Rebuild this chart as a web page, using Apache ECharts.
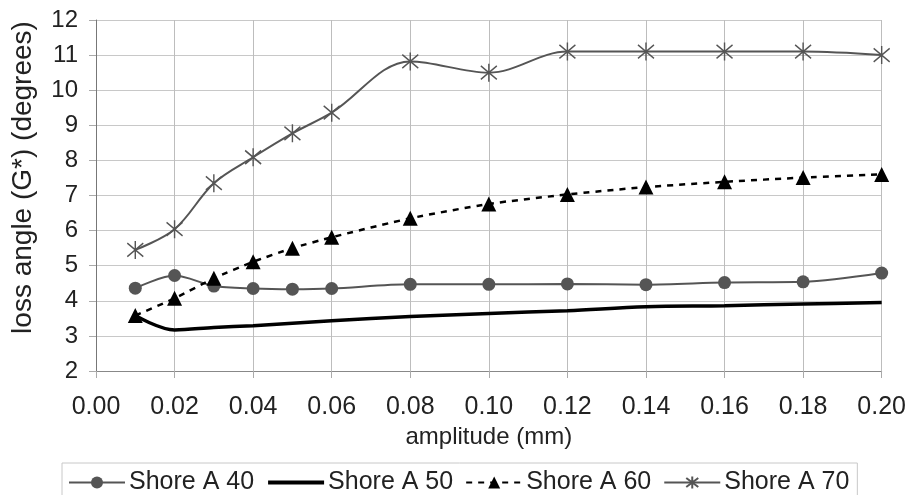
<!DOCTYPE html>
<html>
<head>
<meta charset="utf-8">
<script src="https://cdn.jsdelivr.net/npm/echarts@6/dist/echarts.min.js"></script>
<style>
  html, body { margin: 0; padding: 0; background: #fff; }
  #chart { width: 909px; height: 495px; }
</style>
</head>
<body>
<div id="chart"></div>
<script>
// Loss angle of G* against strain amplitude for four rubber hardnesses
const amplitudes = [0.01, 0.02, 0.03, 0.04, 0.05, 0.06, 0.08, 0.10, 0.12, 0.14, 0.16, 0.18, 0.20];
const shoreA40 = [4.36, 4.72, 4.42, 4.35, 4.33, 4.35, 4.47, 4.47, 4.48, 4.46, 4.52, 4.54, 4.79];
const shoreA50 = [3.58, 3.17, 3.24, 3.29, 3.36, 3.43, 3.55, 3.64, 3.72, 3.83, 3.86, 3.91, 3.95];
const shoreA60 = [3.58, 4.07, 4.64, 5.11, 5.50, 5.81, 6.35, 6.76, 7.03, 7.24, 7.39, 7.51, 7.60];
const shoreA70 = [5.45, 6.04, 7.35, 8.09, 8.77, 9.36, 10.82, 10.50, 11.10, 11.10, 11.10, 11.10, 11.00];
const seriesNames = ['Shore A 40', 'Shore A 50', 'Shore A 60', 'Shore A 70'];
const xTicks = { min: 0, max: 0.2, step: 0.02 };
const yTicks = { min: 2, max: 12, step: 1 };

const pairs = ys => amplitudes.map((x, i) => [x, ys[i]]);
const FONT = '"Liberation Sans", Arial, sans-serif';
const asterisk = 'path://M0,-8L0,8M-7,-6L7,6M-7,6L7,-6';

const chart = echarts.init(document.getElementById('chart'), null, { renderer: 'canvas' });
chart.setOption({
  animation: false,
  backgroundColor: '#fff',
  textStyle: { fontFamily: FONT, color: '#222' },
  grid: { left: 96, right: 26, top: 20, bottom: 124, containLabel: false },
  xAxis: {
    type: 'value',
    min: xTicks.min, max: xTicks.max, interval: xTicks.step,
    name: 'amplitude (mm)',
    nameLocation: 'middle',
    nameGap: 53,
    nameTextStyle: { fontSize: 24, color: '#222', fontFamily: FONT },
    axisLine: { show: true, onZero: false, lineStyle: { color: '#888', width: 1 } },
    axisTick: { show: true, length: 7, lineStyle: { color: '#aaa' } },
    axisLabel: { fontSize: 25, color: '#222', margin: 24, fontFamily: FONT,
                 formatter: v => v.toFixed(2) },
    splitLine: { show: true, lineStyle: { color: '#bdbdbd', width: 1 } }
  },
  yAxis: {
    type: 'value',
    min: yTicks.min, max: yTicks.max, interval: yTicks.step,
    name: 'loss angle (G*) (degrees)',
    nameLocation: 'middle',
    nameGap: 59,
    nameTextStyle: { fontSize: 28, color: '#222', fontFamily: FONT, padding: [0, 0, 0, 36] },
    axisLine: { show: true, lineStyle: { color: '#777', width: 1 } },
    axisTick: { show: true, length: 7, lineStyle: { color: '#aaa' } },
    axisLabel: { fontSize: 24, color: '#222', margin: 18, fontFamily: FONT },
    splitLine: { show: true, lineStyle: { color: '#c8c8c8', width: 1 } }
  },
  legend: {
    data: [
      { name: seriesNames[0] },
      { name: seriesNames[1], itemStyle: { opacity: 0 }, lineStyle: { width: 4 } },
      { name: seriesNames[2] },
      { name: seriesNames[3] }
    ],
    left: 62, top: 463,
    padding: [7, 8, 20, 6],
    borderColor: '#c8c8c8', borderWidth: 1,
    itemGap: 12,
    itemWidth: 56, itemHeight: 15,
    textStyle: { fontSize: 25, color: '#222', fontFamily: FONT, padding: [0, 0, 0, -1] }
  },
  series: [
    {
      name: seriesNames[0], type: 'line', data: pairs(shoreA40),
      smooth: 0.3, symbol: 'circle', symbolSize: 13,
      lineStyle: { color: '#555', width: 2 },
      itemStyle: { color: '#555' }, z: 3
    },
    {
      name: seriesNames[1], type: 'line', data: pairs(shoreA50),
      smooth: 0.35, symbol: 'none', showSymbol: false,
      lineStyle: { color: '#000', width: 3.5 },
      itemStyle: { color: '#000' }, z: 2
    },
    {
      name: seriesNames[2], type: 'line', data: pairs(shoreA60),
      smooth: 0.2, symbol: 'triangle', symbolSize: 15,
      lineStyle: { color: '#000', width: 2.5, type: [6, 6] },
      itemStyle: { color: '#000' }, z: 4
    },
    {
      name: seriesNames[3], type: 'line', data: pairs(shoreA70),
      smooth: 0.35, symbol: asterisk, symbolSize: [16, 18],
      lineStyle: { color: '#555', width: 2 },
      itemStyle: { color: 'transparent', borderColor: '#555', borderWidth: 1.5 }, z: 5
    }
  ]
});
</script>
</body>
</html>
